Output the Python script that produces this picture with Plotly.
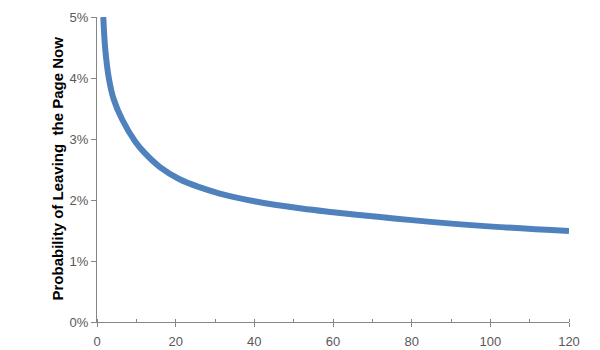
import plotly.graph_objects as go

# Data
seconds = [1.6, 2.1, 3.0, 4.2, 6.4, 9.7, 12, 16, 21, 26, 31, 40, 52, 60, 72,
           80, 97, 120]
probability = [0.0500, 0.0447, 0.0400, 0.0366, 0.0332, 0.0296, 0.0278, 0.0254,
               0.0234, 0.0221, 0.0211, 0.0198, 0.0186, 0.0180, 0.0172, 0.0167,
               0.0158, 0.0149]
y_title = "Probability of Leaving  the Page Now"

fig = go.Figure()
fig.add_trace(go.Scatter(
    x=seconds, y=probability, mode="lines",
    line=dict(color="#4F81BD", width=6, shape="spline", smoothing=1.0),
    hoverinfo="skip", showlegend=False,
))

axis_color = "#868686"
tick_font = dict(family="Liberation Sans, Arial, sans-serif", size=13, color="#595959")

fig.update_layout(
    width=600, height=350,
    margin=dict(l=97, r=31, t=17, b=28),
    paper_bgcolor="white", plot_bgcolor="white",
    xaxis=dict(
        range=[0, 120], dtick=20, tick0=0,
        showgrid=False, zeroline=False,
        showline=True, linecolor=axis_color, linewidth=1,
        ticks="outside", ticklen=4, tickcolor=axis_color,
        minor=dict(dtick=10, ticks="inside", ticklen=3, tickcolor=axis_color, showgrid=False),
        tickfont=tick_font, ticklabelstandoff=3, automargin=False, fixedrange=True,
    ),
    yaxis=dict(
        range=[0, 0.05], dtick=0.01, tickformat=".0%",
        showgrid=False, zeroline=False,
        showline=True, linecolor=axis_color, linewidth=1,
        ticks="outside", ticklen=5, tickcolor=axis_color,
        tickfont=tick_font, automargin=False, fixedrange=True,
    ),
    annotations=[dict(
        text=y_title, textangle=-90, showarrow=False,
        xref="paper", yref="paper", x=-0.0847, y=0.5, yshift=1,
        xanchor="center", yanchor="middle",
        font=dict(family="Liberation Sans, Arial, sans-serif", size=15,
                  color="black", weight="bold"),
    )],
)

fig.write_html("out.html")
